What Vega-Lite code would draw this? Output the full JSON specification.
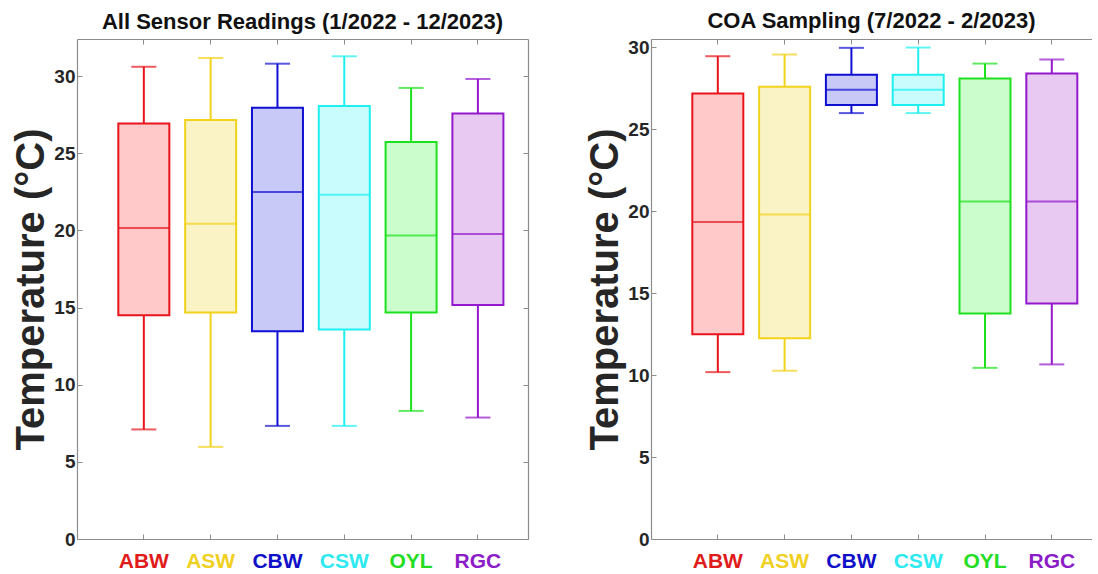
{
  "$schema": "https://vega.github.io/schema/vega-lite/v6.json",
  "padding": {"left": 11, "top": 10, "right": 0, "bottom": 0},
  "background": "white",
  "config": {"font": "Liberation Sans", "view": {"stroke": null}, "concat": {"spacing": 56}},
  "datasets": {
    "all": [
      {"site": "ABW", "min": 7.1, "q1": 14.5, "median": 20.15, "q3": 26.93, "max": 30.6},
      {"site": "ASW", "min": 5.97, "q1": 14.68, "median": 20.43, "q3": 27.15, "max": 31.17},
      {"site": "CBW", "min": 7.33, "q1": 13.47, "median": 22.48, "q3": 27.95, "max": 30.8},
      {"site": "CSW", "min": 7.33, "q1": 13.57, "median": 22.31, "q3": 28.06, "max": 31.28},
      {"site": "OYL", "min": 8.3, "q1": 14.68, "median": 19.67, "q3": 25.73, "max": 29.23},
      {"site": "RGC", "min": 7.87, "q1": 15.16, "median": 19.76, "q3": 27.57, "max": 29.81}
    ],
    "coa": [
      {"site": "ABW", "min": 10.18, "q1": 12.49, "median": 19.34, "q3": 27.18, "max": 29.45},
      {"site": "ASW", "min": 10.26, "q1": 12.25, "median": 19.8, "q3": 27.59, "max": 29.56},
      {"site": "CBW", "min": 25.98, "q1": 26.47, "median": 27.4, "q3": 28.32, "max": 29.96},
      {"site": "CSW", "min": 25.98, "q1": 26.47, "median": 27.4, "q3": 28.32, "max": 29.98},
      {"site": "OYL", "min": 10.44, "q1": 13.75, "median": 20.58, "q3": 28.09, "max": 29.0},
      {"site": "RGC", "min": 10.65, "q1": 14.36, "median": 20.58, "q3": 28.4, "max": 29.25}
    ]
  },
  "hconcat": [
    {
      "title": {"text": "All Sensor Readings (1/2022 - 12/2023)", "fontSize": 22, "fontWeight": "bold", "color": "#111111", "offset": 5},
      "width": 451,
      "height": 500,
      "data": {"name": "all"},
      "resolve": {"axis": {"x": "independent", "y": "independent"}},
      "layer": [
        {
          "mark": {"type": "rule", "strokeWidth": 2},
          "encoding": {
            "x": {"field": "site", "type": "nominal", "sort": null, "scale": {"paddingInner": 0, "paddingOuter": 0.375, "align": 0.667},
              "axis": {"orient": "bottom", "title": null, "labelAngle": 0, "labelFontSize": 21, "labelFontWeight": "bold", "labelPadding": 16, "tickSize": -5, "tickColor": "#8c8c8c", "domainColor": "#8c8c8c", "domainWidth": 1.2,
                "labelColor": {"condition": [
                  {"test": "datum.value === 'ABW'", "value": "#E01B1B"},
                  {"test": "datum.value === 'ASW'", "value": "#F0D020"},
                  {"test": "datum.value === 'CBW'", "value": "#1010C8"},
                  {"test": "datum.value === 'CSW'", "value": "#2EEAF0"},
                  {"test": "datum.value === 'OYL'", "value": "#22DD22"}], "value": "#8C1CC8"}}},
            "y": {"field": "min", "type": "quantitative", "scale": {"domain": [0, 32.4], "nice": false, "zero": false},
              "axis": {"orient": "left", "values": [0, 5, 10, 15, 20, 25, 30], "title": "Temperature (°C)", "titleFontSize": 40, "titleFontWeight": "bold", "titleColor": "#262626", "titlePadding": 2, "labelFontSize": 19, "labelFontWeight": "bold", "labelColor": "#262626", "labelPadding": 7, "tickSize": -5, "tickColor": "#8c8c8c", "domainColor": "#8c8c8c", "domainWidth": 1.2, "grid": false}},
            "y2": {"field": "q1"},
            "color": {"field": "site", "type": "nominal", "legend": null, "scale": {"domain": ["ABW", "ASW", "CBW", "CSW", "OYL", "RGC"], "range": ["#E8141B", "#F2D21B", "#0F0FD2", "#1EEFF0", "#1EE11E", "#9418CC"]}}
          }
        },
        {
          "mark": {"type": "rule", "strokeWidth": 2},
          "encoding": {
            "x": {"field": "site", "type": "nominal", "sort": null,
              "axis": {"orient": "top", "title": null, "labels": false, "tickSize": -5, "tickColor": "#8c8c8c", "domainColor": "#8c8c8c", "domainWidth": 1.2}},
            "y": {"field": "q3", "type": "quantitative",
              "axis": {"orient": "right", "values": [0, 5, 10, 15, 20, 25, 30], "title": null, "labels": false, "tickSize": -5, "tickColor": "#8c8c8c", "domainColor": "#8c8c8c", "domainWidth": 1.2, "grid": false}},
            "y2": {"field": "max"},
            "color": {"field": "site", "type": "nominal", "legend": null}
          }
        },
        {
          "mark": {"type": "bar", "size": 51, "strokeWidth": 2},
          "encoding": {
            "x": {"field": "site", "type": "nominal", "sort": null, "axis": null},
            "y": {"field": "q1", "type": "quantitative", "axis": null},
            "y2": {"field": "q3"},
            "fill": {"field": "site", "type": "nominal", "legend": null, "scale": {"domain": ["ABW", "ASW", "CBW", "CSW", "OYL", "RGC"], "range": ["#FFC9C9", "#FAF3C6", "#C9C9F7", "#C9FDFD", "#CBFCCB", "#E7C9F1"]}},
            "stroke": {"field": "site", "type": "nominal", "legend": null, "scale": {"domain": ["ABW", "ASW", "CBW", "CSW", "OYL", "RGC"], "range": ["#E8141B", "#F2D21B", "#0F0FD2", "#1EEFF0", "#1EE11E", "#9418CC"]}}
          }
        },
        {
          "mark": {"type": "tick", "size": 51, "thickness": 2},
          "encoding": {
            "x": {"field": "site", "type": "nominal", "sort": null, "axis": null},
            "y": {"field": "median", "type": "quantitative", "axis": null},
            "color": {"field": "site", "type": "nominal", "legend": null}
          }
        },
        {
          "mark": {"type": "tick", "size": 25, "thickness": 2},
          "encoding": {
            "x": {"field": "site", "type": "nominal", "sort": null, "axis": null},
            "y": {"field": "min", "type": "quantitative", "axis": null},
            "color": {"field": "site", "type": "nominal", "legend": null}
          }
        },
        {
          "mark": {"type": "tick", "size": 25, "thickness": 2},
          "encoding": {
            "x": {"field": "site", "type": "nominal", "sort": null, "axis": null},
            "y": {"field": "max", "type": "quantitative", "axis": null},
            "color": {"field": "site", "type": "nominal", "legend": null}
          }
        }
      ]
    },
    {
      "title": {"text": "COA Sampling (7/2022 - 2/2023)", "fontSize": 22, "fontWeight": "bold", "color": "#111111", "offset": 5},
      "width": 441,
      "height": 500,
      "data": {"name": "coa"},
      "resolve": {"axis": {"x": "independent", "y": "independent"}},
      "layer": [
        {
          "mark": {"type": "rule", "strokeWidth": 2},
          "encoding": {
            "x": {"field": "site", "type": "nominal", "sort": null, "scale": {"paddingInner": 0, "paddingOuter": 0.301, "align": 0.831},
              "axis": {"orient": "bottom", "title": null, "labelAngle": 0, "labelFontSize": 21, "labelFontWeight": "bold", "labelPadding": 16, "tickSize": -5, "tickColor": "#8c8c8c", "domainColor": "#8c8c8c", "domainWidth": 1.2,
                "labelColor": {"condition": [
                  {"test": "datum.value === 'ABW'", "value": "#E01B1B"},
                  {"test": "datum.value === 'ASW'", "value": "#F0D020"},
                  {"test": "datum.value === 'CBW'", "value": "#1010C8"},
                  {"test": "datum.value === 'CSW'", "value": "#2EEAF0"},
                  {"test": "datum.value === 'OYL'", "value": "#22DD22"}], "value": "#8C1CC8"}}},
            "y": {"field": "min", "type": "quantitative", "scale": {"domain": [0, 30.5], "nice": false, "zero": false},
              "axis": {"orient": "left", "values": [0, 5, 10, 15, 20, 25, 30], "title": "Temperature (°C)", "titleFontSize": 40, "titleFontWeight": "bold", "titleColor": "#262626", "titlePadding": 2, "labelFontSize": 19, "labelFontWeight": "bold", "labelColor": "#262626", "labelPadding": 7, "tickSize": -5, "tickColor": "#8c8c8c", "domainColor": "#8c8c8c", "domainWidth": 1.2, "grid": false}},
            "y2": {"field": "q1"},
            "color": {"field": "site", "type": "nominal", "legend": null, "scale": {"domain": ["ABW", "ASW", "CBW", "CSW", "OYL", "RGC"], "range": ["#E8141B", "#F2D21B", "#0F0FD2", "#1EEFF0", "#1EE11E", "#9418CC"]}}
          }
        },
        {
          "mark": {"type": "rule", "strokeWidth": 2},
          "encoding": {
            "x": {"field": "site", "type": "nominal", "sort": null,
              "axis": {"orient": "top", "title": null, "labels": false, "tickSize": -5, "tickColor": "#8c8c8c", "domainColor": "#8c8c8c", "domainWidth": 1.2}},
            "y": {"field": "q3", "type": "quantitative", "axis": null},
            "y2": {"field": "max"},
            "color": {"field": "site", "type": "nominal", "legend": null}
          }
        },
        {
          "mark": {"type": "bar", "size": 51, "strokeWidth": 2},
          "encoding": {
            "x": {"field": "site", "type": "nominal", "sort": null, "axis": null},
            "y": {"field": "q1", "type": "quantitative", "axis": null},
            "y2": {"field": "q3"},
            "fill": {"field": "site", "type": "nominal", "legend": null, "scale": {"domain": ["ABW", "ASW", "CBW", "CSW", "OYL", "RGC"], "range": ["#FFC9C9", "#FAF3C6", "#C9C9F7", "#C9FDFD", "#CBFCCB", "#E7C9F1"]}},
            "stroke": {"field": "site", "type": "nominal", "legend": null, "scale": {"domain": ["ABW", "ASW", "CBW", "CSW", "OYL", "RGC"], "range": ["#E8141B", "#F2D21B", "#0F0FD2", "#1EEFF0", "#1EE11E", "#9418CC"]}}
          }
        },
        {
          "mark": {"type": "tick", "size": 51, "thickness": 2},
          "encoding": {
            "x": {"field": "site", "type": "nominal", "sort": null, "axis": null},
            "y": {"field": "median", "type": "quantitative", "axis": null},
            "color": {"field": "site", "type": "nominal", "legend": null}
          }
        },
        {
          "mark": {"type": "tick", "size": 25, "thickness": 2},
          "encoding": {
            "x": {"field": "site", "type": "nominal", "sort": null, "axis": null},
            "y": {"field": "min", "type": "quantitative", "axis": null},
            "color": {"field": "site", "type": "nominal", "legend": null}
          }
        },
        {
          "mark": {"type": "tick", "size": 25, "thickness": 2},
          "encoding": {
            "x": {"field": "site", "type": "nominal", "sort": null, "axis": null},
            "y": {"field": "max", "type": "quantitative", "axis": null},
            "color": {"field": "site", "type": "nominal", "legend": null}
          }
        }
      ]
    }
  ]
}
